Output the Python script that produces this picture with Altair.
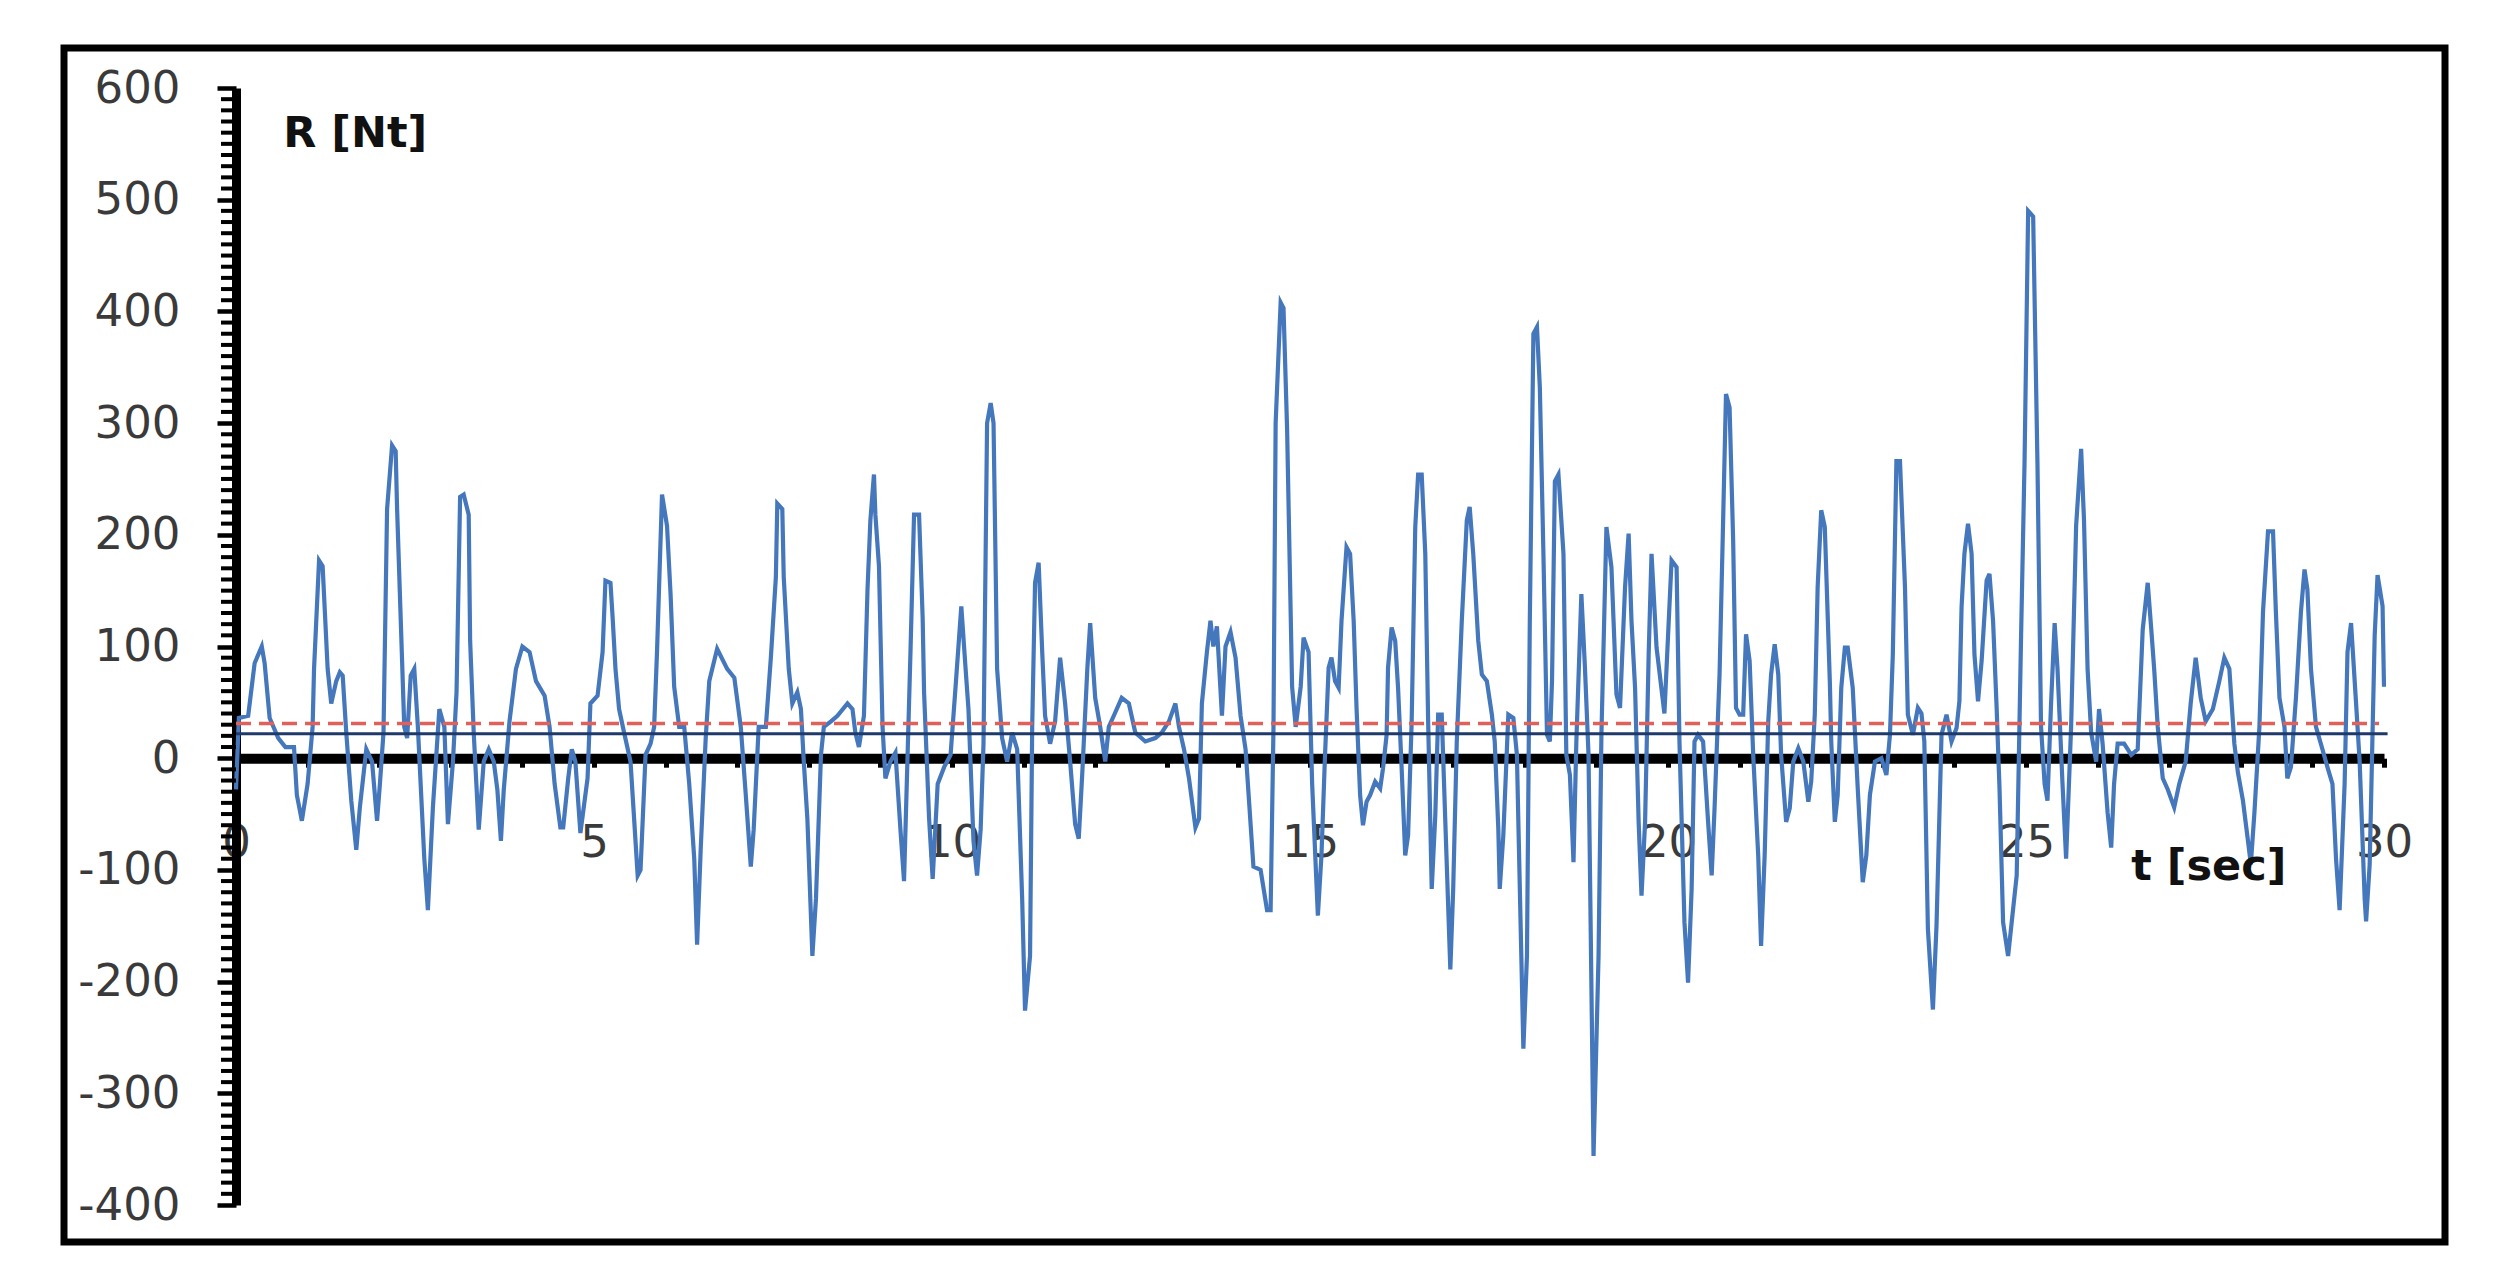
import altair as alt
import pandas as pd

# --- data -----------------------------------------------------------------
t_values = [
    0.00, 0.04, 0.17, 0.26, 0.36, 0.40, 0.47, 0.59, 0.69, 0.81, 0.85, 0.92, 1.00, 1.07, 1.09, 1.16,
    1.21, 1.28, 1.33, 1.40, 1.45, 1.49, 1.54, 1.61, 1.68, 1.73, 1.82, 1.90, 1.97, 2.01, 2.06, 2.11,
    2.18, 2.23, 2.25, 2.35, 2.39, 2.44, 2.49, 2.54, 2.63, 2.68, 2.75, 2.84, 2.91, 2.96, 3.03, 3.08,
    3.13, 3.18, 3.25, 3.27, 3.32, 3.39, 3.46, 3.53, 3.60, 3.65, 3.70, 3.74, 3.82, 3.91, 4.00, 4.10,
    4.19, 4.31, 4.38, 4.45, 4.53, 4.57, 4.64, 4.69, 4.74, 4.81, 4.91, 4.95,
    5.05, 5.12, 5.16, 5.23, 5.26, 5.30, 5.35, 5.42, 5.51, 5.61, 5.65, 5.72, 5.79, 5.84, 5.88, 5.95,
    6.02, 6.07, 6.12, 6.19, 6.26, 6.33, 6.40, 6.44, 6.49, 6.56, 6.61, 6.72, 6.86, 6.96, 7.05, 7.12,
    7.19, 7.23, 7.30, 7.40, 7.47, 7.54, 7.56, 7.63, 7.65, 7.72, 7.77, 7.84, 7.89, 7.93, 7.98, 8.05,
    8.10, 8.17, 8.21, 8.31, 8.40, 8.54, 8.61, 8.65, 8.70, 8.77, 8.82, 8.86, 8.91, 8.93, 8.98, 9.03,
    9.07, 9.14, 9.21, 9.28, 9.33, 9.40, 9.42, 9.47, 9.54, 9.59, 9.61, 9.68, 9.73, 9.80, 9.89, 9.98,
    10.05, 10.13,
    10.19, 10.23, 10.30, 10.35, 10.40, 10.44, 10.49, 10.54, 10.58, 10.63, 10.70, 10.77, 10.84, 10.91,
    10.98, 11.02, 11.09, 11.12, 11.16, 11.21, 11.26, 11.30, 11.37, 11.44, 11.51, 11.58, 11.65, 11.72,
    11.77, 11.82, 11.89, 11.93, 12.00, 12.07, 12.14, 12.19, 12.26, 12.37, 12.47, 12.56, 12.70, 12.84,
    12.93, 13.03, 13.12, 13.17, 13.24, 13.31, 13.40, 13.45, 13.49, 13.56, 13.61, 13.65, 13.70, 13.77,
    13.82, 13.89, 13.96, 14.03, 14.10, 14.21, 14.31, 14.40, 14.45, 14.49, 14.52, 14.59, 14.63, 14.68,
    14.75, 14.80, 14.87, 14.91, 14.98, 15.03, 15.11,
    15.16, 15.21, 15.26, 15.30, 15.35, 15.40, 15.44, 15.51, 15.56, 15.61, 15.65, 15.70, 15.74, 15.79,
    15.84, 15.91, 15.98, 16.02, 16.07, 16.09, 16.14, 16.19, 16.23, 16.28, 16.33, 16.37, 16.42, 16.47,
    16.51, 16.56, 16.61, 16.65, 16.70, 16.75, 16.79, 16.84, 16.89, 16.96, 17.00, 17.05, 17.12, 17.19,
    17.23, 17.28, 17.35, 17.40, 17.47, 17.54, 17.58, 17.63, 17.65, 17.70, 17.77, 17.84, 17.89, 17.91,
    17.98, 18.03, 18.07, 18.12, 18.17, 18.21, 18.26, 18.31, 18.35, 18.38, 18.42, 18.47, 18.54, 18.58,
    18.63, 18.68, 18.72, 18.79, 18.84, 18.89, 18.96, 19.03, 19.07, 19.14, 19.21, 19.28, 19.33, 19.40,
    19.45, 19.49, 19.54, 19.59, 19.63, 19.68, 19.73, 19.77, 19.84, 19.95, 20.05, 20.12, 20.16,
    20.23, 20.28, 20.33, 20.37, 20.42, 20.49, 20.56, 20.61, 20.65, 20.72, 20.77, 20.81, 20.86, 20.91,
    20.95, 21.00, 21.05, 21.09, 21.14, 21.19, 21.26, 21.30, 21.35, 21.40, 21.44, 21.49, 21.54, 21.58,
    21.65, 21.70, 21.75, 21.82, 21.89, 21.96, 22.00, 22.05, 22.09, 22.14, 22.19, 22.26, 22.28, 22.33,
    22.37, 22.42, 22.47, 22.51, 22.58, 22.65, 22.72, 22.77, 22.82, 22.89, 22.98, 23.05, 23.10, 23.14,
    23.19, 23.24, 23.31, 23.35, 23.42, 23.49, 23.54, 23.58, 23.63, 23.70, 23.75, 23.82, 23.89, 23.96,
    24.03, 24.07, 24.10, 24.14, 24.19, 24.24, 24.28, 24.33, 24.38, 24.45, 24.49, 24.54, 24.59, 24.63,
    24.68, 24.75, 24.82, 24.87, 24.93, 24.98, 25.03, 25.10,
    25.16, 25.21, 25.26, 25.30, 25.35, 25.40, 25.44, 25.51, 25.56, 25.63, 25.70, 25.77, 25.81, 25.86,
    25.91, 25.98, 26.02, 26.07, 26.14, 26.19, 26.23, 26.28, 26.37, 26.47, 26.56, 26.63, 26.70, 26.75,
    26.79, 26.84, 26.91, 26.98, 27.07, 27.14, 27.23, 27.30, 27.37, 27.44, 27.51, 27.61, 27.70, 27.77,
    27.84, 27.91, 27.96, 28.03, 28.10, 28.14, 28.19, 28.26, 28.31, 28.38, 28.45, 28.49, 28.54, 28.61,
    28.65, 28.70, 28.77, 28.84, 28.89, 28.93, 28.98, 29.05, 29.14, 29.21, 29.28, 29.33, 29.38, 29.45,
    29.49, 29.54, 29.61, 29.66, 29.73, 29.75, 29.80, 29.87, 29.91, 29.98, 30.00,
]

r_values = [
    -28, 36, 38, 85, 100, 85, 36, 18, 10, 10, -33, -56, -23, 28, 80, 177,
    172, 80, 49, 69, 77, 74, 23, -38, -82, -44, 8, -3, -56, -23, 23, 223,
    280, 275, 223, 28, 18, 74, 80, 28, -90, -136, -44, 44, 28, -59, -3, 59,
    234, 236, 218, 105, 23, -64, -3, 8, -3, -28, -74, -28, 33, 80, 100, 95,
    69, 56, 28, -23, -62, -62, -18, 8, -3, -67, -18, 49,
    56, 95, 159, 157, 126, 80, 44, 23, -3, -105, -100, 3, 13, 28, 95, 236,
    208, 146, 64, 28, 28, -23, -90, -167, -82, 18, 69, 98, 80, 72, 28, -33,
    -97, -64, 28, 28, 90, 162, 228, 223, 162, 80, 49, 59, 44, -3, -54, -177,
    -126, 3, 28, 33, 38, 49, 44, 23, 10, 38, 151, 213, 254, 218, 172, 28,
    -18, -3, 5, -64, -110, 49, 95, 218, 218, 126, 59, -54, -108, -23, -8, 3,
    64, 136,
    80, 44, -74, -105, -64, 13, 300, 318, 300, 80, 18, -3, 23, 8,
    -126, -226, -177, 28, 157, 175, 95, 38, 13, 33, 90, 49, -3, -59,
    -72, -13, 80, 121, 54, 28, -3, 28, 38, 54, 49, 23, 15, 18,
    23, 33, 49, 28, 8, -18, -62, -54, 49, 95, 123, 100, 118, 38,
    100, 113, 90, 38, 8, -97, -100, -136, -136, 28, 300, 408, 403, 295,
    64, 28, 64, 108, 95, -23, -141,
    -87, 3, 81, 90, 69, 63, 123, 189, 183, 123, 45, -33, -60, -39,
    -33, -21, -27, -9, 21, 81, 117, 105, 63, -9, -87, -69, 33, 207,
    254, 254, 183, 33, -117, -51, 39, 39, -57, -189, -117, 15, 123, 213,
    225, 183, 105, 75, 69, 39, 15, -63, -117, -69, 39, 36, 3, -57,
    -260, -177, 123, 380, 386, 332, 183, 21, 15, 69, 248, 254, 183, 3,
    -15, -93, 15, 147, 81, 3, -356, -177, 21, 207, 171, 57, 45, 153,
    201, 123, 63, -57, -123, -57, 93, 183, 99, 40, 177, 171, 15,
    -147, -201, -117, 15, 21, 15, -57, -105, -45, 75, 213, 326, 314, 195,
    45, 39, 39, 111, 87, 3, -87, -168, -87, 33, 75, 102, 75, 3,
    -57, -45, -3, 9, -3, -39, -21, 39, 153, 222, 207, 69, 15, -57,
    -33, 63, 99, 99, 63, -27, -111, -87, -33, -3, 0, -15, 21, 93,
    266, 266, 153, 39, 21, 45, 40, 15, -153, -225, -150, 21, 39, 15,
    27, 51, 135, 183, 210, 183, 93, 51, 87, 159, 165, 123, 45, -27,
    -147, -177, -135, -105, 105, 266, 490, 485,
    264, 28, -23, -38, 49, 121, 80, -23, -90, 28, 208, 277, 213, 80,
    23, -3, 44, 13, -49, -80, -23, 13, 13, 3, 8, 115, 157, 115,
    80, 28, -18, -28, -44, -23, -3, 49, 90, 54, 33, 44, 69, 90,
    80, 13, -13, -38, -74, -95, -49, 28, 131, 203, 203, 131, 54, 28,
    -18, -8, 54, 131, 169, 151, 80, 28, 8, -8, -23, -90, -136, -23,
    95, 121, 49, -3, -126, -146, -95, 110, 164, 136, 64,
]

# reference levels (dashed red and solid navy)
level_names = ["dashed", "solid"]
level_values = [31, 22]
level_t_end = [29.93, 30.05]

x_ticks = list(range(0, 31))
y_major = list(range(-400, 601, 100))
y_minor = [v for v in range(-400, 601, 10) if v % 100 != 0]

series = pd.DataFrame({"t": t_values, "r": r_values})
levels = pd.DataFrame({"name": level_names, "r": level_values,
                       "t": [0, 0], "t_end": level_t_end})
minor = pd.DataFrame({"r": y_minor})

xscale = alt.Scale(domain=[0, 30], nice=False, zero=False)
yscale = alt.Scale(domain=[-400, 600], nice=False, zero=False)

FONT = "DejaVu Sans"

line = alt.Chart(series).mark_line(color="#4577bd", strokeWidth=4.2).encode(
    x=alt.X("t:Q", scale=xscale, title=None, axis=alt.Axis(
        values=x_ticks,
        labelExpr="datum.value % 5 === 0 ? '' + datum.value : ''",
        offset=-446.8, tickSize=9, tickWidth=5, tickColor="black",
        domainColor="black", domainWidth=10, grid=False,
        labelFont=FONT, labelFontSize=45, labelColor="#3a3a3a",
        labelPadding=53, labelOverlap=False, labelFlush=False)),
    y=alt.Y("r:Q", scale=yscale, title=None, axis=alt.Axis(
        values=y_major, labelExpr="'' + datum.value",
        tickSize=19, tickWidth=4.5, tickColor="black",
        domainColor="black", domainWidth=9, grid=False,
        labelFont=FONT, labelFontSize=45, labelColor="#3a3a3a",
        labelPadding=37, labelOverlap=False, labelFlush=False)),
)

# minor ticks of the y axis (every 10 units)
minor_ticks = alt.Chart(minor).mark_rule(color="black", strokeWidth=4).encode(
    y=alt.Y("r:Q", title=None),
    x=alt.value(-15), x2=alt.value(0))

red = alt.Chart(levels).transform_filter("datum.name === 'dashed'").mark_rule(
    color="#e0605a", strokeWidth=3.5, strokeDash=[15, 8]).encode(
    x=alt.X("t:Q", title=None), x2="t_end:Q", y=alt.Y("r:Q", title=None))

navy = alt.Chart(levels).transform_filter("datum.name === 'solid'").mark_rule(
    color="#1f3a68", strokeWidth=3).encode(
    x=alt.X("t:Q", title=None), x2="t_end:Q", y=alt.Y("r:Q", title=None))

labels = pd.DataFrame({"t": [0.66, 26.47], "r": [559, -97], "txt": ["R [Nt]", "t [sec]"]})
texts = alt.Chart(labels).mark_text(
    font=FONT, fontSize=43, fontWeight="bold", align="left", baseline="middle",
    color="#111111").encode(
    x=alt.X("t:Q", title=None), y=alt.Y("r:Q", title=None), text="txt:N")

frame = alt.Chart(alt.Data(values=[{}])).mark_rect(
    fillOpacity=0, stroke="black", strokeWidth=7).encode(
    x=alt.value(-172), x2=alt.value(2209), y=alt.value(-40), y2=alt.value(1154))

chart = alt.layer(line, minor_ticks, red, navy, texts, frame).properties(
    width=2148, height=1117,
    autosize=alt.AutoSizeParams(type="none"),
    padding={"left": 228, "top": 80, "right": 100, "bottom": 60},
).configure_view(stroke=None)

chart.save("out.html", embed_options={"renderer": "svg", "actions": False})
